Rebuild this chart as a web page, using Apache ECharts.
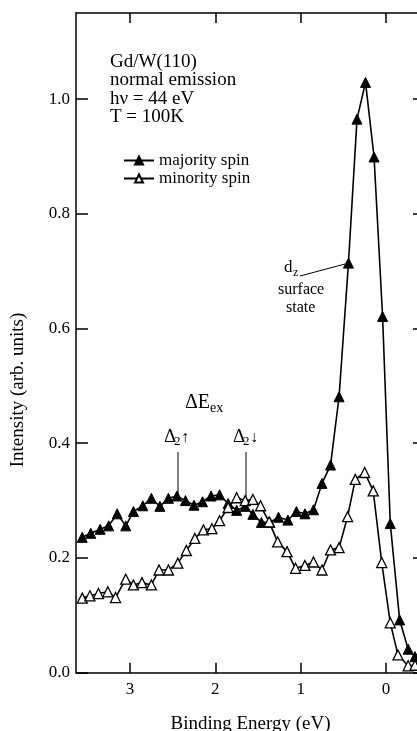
<!DOCTYPE html>
<html>
<head>
<meta charset="utf-8">
<script src="https://cdn.jsdelivr.net/npm/echarts@6/dist/echarts.min.js"></script>
<style>
  html, body { margin: 0; padding: 0; background: #fff; }
  #chart { width: 417px; height: 731px; }
</style>
</head>
<body>
<div id="chart"></div>
<script>
// binding energy (eV) and intensity (arb. units)
var majorityEnergy = [3.56, 3.46, 3.35, 3.25, 3.15, 3.05, 2.96, 2.85, 2.75, 2.65, 2.55, 2.45, 2.35,
    2.25, 2.15, 2.05, 1.95, 1.85, 1.75, 1.65, 1.56, 1.46, 1.36, 1.26, 1.15, 1.05, 0.95, 0.85,
    0.75, 0.65, 0.55, 0.44, 0.34, 0.24, 0.14, 0.04, -0.05, -0.16, -0.26, -0.34];
var majorityValue = [0.236, 0.243, 0.250, 0.256, 0.277, 0.256, 0.281, 0.291, 0.304, 0.290, 0.304, 0.308, 0.300,
    0.292, 0.298, 0.308, 0.310, 0.295, 0.283, 0.290, 0.276, 0.262, 0.262, 0.271, 0.266, 0.281, 0.277, 0.284,
    0.330, 0.362, 0.481, 0.714, 0.965, 1.029, 0.899, 0.621, 0.260, 0.092, 0.041, 0.028];

var minorityEnergy = [3.56, 3.47, 3.37, 3.26, 3.17, 3.05, 2.96, 2.86, 2.75, 2.66, 2.55, 2.44, 2.34,
    2.24, 2.14, 2.04, 1.95, 1.85, 1.75, 1.65, 1.56, 1.47, 1.37, 1.27, 1.16, 1.06, 0.95, 0.85,
    0.75, 0.65, 0.55, 0.45, 0.36, 0.25, 0.15, 0.05, -0.05, -0.14, -0.26, -0.34];
var minorityValue = [0.130, 0.134, 0.138, 0.141, 0.131, 0.163, 0.153, 0.157, 0.153, 0.179, 0.179, 0.191, 0.213,
    0.234, 0.249, 0.251, 0.265, 0.288, 0.305, 0.300, 0.302, 0.291, 0.263, 0.228, 0.211, 0.182, 0.187, 0.193,
    0.179, 0.214, 0.218, 0.272, 0.337, 0.349, 0.317, 0.192, 0.087, 0.031, 0.012, 0.013];

var energyTicks = [0, 1, 2, 3];
var intensityTicks = [0, 0.2, 0.4, 0.6, 0.8, 1.0];

var seriesNames = ['majority spin', 'minority spin'];
var infoLines = ['Gd/W(110)', 'normal emission', 'h\u03bd = 44 eV', 'T = 100K'];

var serif = '"Liberation Serif", "DejaVu Serif", serif';

function pairs(xs, ys) {
    var out = [];
    for (var i = 0; i < xs.length; i++) out.push([xs[i], ys[i]]);
    return out;
}

var chart = echarts.init(document.getElementById('chart'));

var axisLine = { show: true, onZero: false, lineStyle: { color: '#000', width: 1.5 } };

function xAxisOf(pos, labels) {
    return {
        type: 'value',
        position: pos,
        min: -0.457,
        max: 3.633,
        inverse: true,
        axisLine: axisLine,
        axisTick: { show: true, inside: true, length: 10, customValues: energyTicks,
            lineStyle: { color: '#000', width: 1.5 } },
        axisLabel: {
            show: labels, margin: 8, color: '#000', fontFamily: serif, fontSize: 17,
            customValues: energyTicks,
            formatter: function (v) { return String(Math.round(v)); }
        },
        splitLine: { show: false }
    };
}
function yAxisOf(pos, labels) {
    return {
        type: 'value',
        position: pos,
        min: 0,
        max: 1.15,
        axisLine: axisLine,
        axisTick: { show: true, inside: true, length: 12, customValues: intensityTicks,
            lineStyle: { color: '#000', width: 1.5 } },
        axisLabel: {
            show: labels, margin: 6, color: '#000', fontFamily: serif, fontSize: 17,
            customValues: intensityTicks,
            formatter: function (v) { return v.toFixed(1); }
        },
        splitLine: { show: false }
    };
}

var graphics = [];
infoLines.forEach(function (t, i) {
    graphics.push({
        type: 'text', x: 110, y: 62 + i * 18.5,
        style: { text: t, font: '19px ' + serif, fill: '#000', textVerticalAlign: 'middle' }
    });
});
function txt(s, x, y, size) {
    graphics.push({
        type: 'text', x: x, y: y,
        style: { text: s, font: size + 'px ' + serif, fill: '#000', textVerticalAlign: 'middle' }
    });
}
function seg(x1, y1, x2, y2) {
    graphics.push({
        type: 'line', shape: { x1: x1, y1: y1, x2: x2, y2: y2 },
        style: { stroke: '#000', lineWidth: 1 }
    });
}
// ΔE_ex
txt('\u0394E', 185, 403, 20);
txt('ex', 210, 408, 14);
// Δ2↑
txt('\u0394', 164, 437, 19);
txt('2', 174, 442, 13);
txt('\u2191', 181, 438, 16);
seg(178, 452, 178, 494);
// Δ2↓
txt('\u0394', 233, 437, 19);
txt('2', 243, 442, 13);
txt('\u2193', 250, 438, 16);
seg(246, 452, 246, 497);
// d_z surface state
txt('d', 284, 268, 17);
txt('z', 293, 273, 12);
txt('surface', 278, 290, 16);
txt('state', 286, 308, 16);
seg(300, 276, 345, 264);
// y axis title
graphics.push({
    type: 'text', x: 18, y: 390, rotation: Math.PI / 2,
    style: { text: 'Intensity (arb. units)', font: '19px ' + serif, fill: '#000',
        textAlign: 'center', textVerticalAlign: 'middle' }
});

var option = {
    animation: false,
    backgroundColor: '#fff',
    grid: { left: 76, width: 349, top: 13, height: 659.7, outerBoundsMode: 'none', containLabel: false },
    legend: {
        orient: 'vertical',
        left: 118,
        top: 147,
        itemWidth: 30,
        itemHeight: 10,
        itemGap: 1,
        textStyle: { fontFamily: serif, fontSize: 17, color: '#000', lineHeight: 16 },
        data: seriesNames
    },
    xAxis: [
        Object.assign(xAxisOf('bottom', true), {
            name: 'Binding Energy (eV)',
            nameLocation: 'middle',
            nameGap: 42,
            nameTextStyle: { fontFamily: serif, fontSize: 19, color: '#000' }
        }),
        xAxisOf('top', false)
    ],
    yAxis: [yAxisOf('left', true), yAxisOf('right', false)],
    graphic: graphics,
    series: [
        {
            name: seriesNames[0],
            type: 'line',
            data: pairs(majorityEnergy, majorityValue),
            symbol: 'triangle',
            symbolSize: 10,
            showAllSymbol: true,
            lineStyle: { color: '#000', width: 1.6 },
            itemStyle: { color: '#000', borderColor: '#000', borderWidth: 1 }
        },
        {
            name: seriesNames[1],
            type: 'line',
            data: pairs(minorityEnergy, minorityValue),
            symbol: 'triangle',
            symbolSize: 10,
            showAllSymbol: true,
            lineStyle: { color: '#000', width: 1.6 },
            itemStyle: { color: '#fff', borderColor: '#000', borderWidth: 1.3 }
        }
    ]
};

chart.setOption(option);
</script>
</body>
</html>
